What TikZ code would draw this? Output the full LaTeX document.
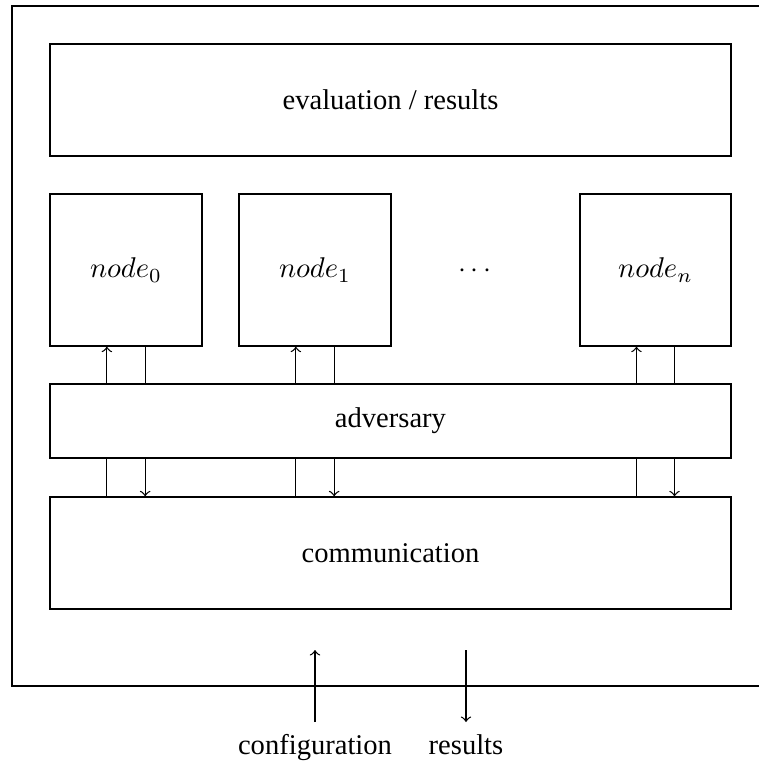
\documentclass[tikz,border=0pt]{standalone}
\usepackage{fontspec}
\setmainfont{Liberation Serif}
\usetikzlibrary{calc}
\newcommand\pxu{0.35pt}
\begin{document}
\begin{tikzpicture}[x=0.35pt,y=-0.35pt,line width=0.45pt,
  box/.style 2 args={draw, inner sep=0pt, minimum width=#1*\pxu, minimum height=#2*\pxu},
  lbl/.style={inner sep=0pt, anchor=base}]
  \useasboundingbox (0,0) rectangle (759,762);
  % outer frame, open on the right
  \draw (759,6) -- (12,6) -- (12,686) -- (759,686);

  \node[box={681}{112}] (eval) at (390.5,100) {evaluation / results};
  \node[box={152}{152}] (n0) at (126,270) {$node_0$};
  \node[box={152}{152}] (n1) at (315,270) {$node_1$};
  \node (dots) at (475,271) {$\cdots$};
  \node[box={151}{152}] (nn) at (655.5,270) {$node_n$};
  \node[box={681}{74}] (adv) at (390.5,421) {adversary};
  \node[box={681}{112}] (comm) at (390.5,553) {communication};

  \foreach \n in {n0,n1,nn} {
    \coordinate (\n-a) at ($(\n.south west)!0.375!(\n.south east)$);
    \coordinate (\n-b) at ($(\n.south west)!0.625!(\n.south east)$);
    \draw[->] (adv.north -| \n-a) -- (\n-a);
    \draw (\n-b) -- (adv.north -| \n-b);
    \draw (adv.south -| \n-a) -- (comm.north -| \n-a);
    \draw[->] (adv.south -| \n-b) -- (comm.north -| \n-b);
  }

  \node[lbl] (cfg) at (315,754) {configuration};
  \node[lbl] (res) at (466,754) {results};
  \coordinate (cfg-top) at (315,650);
  \coordinate (cfg-bot) at (315,722);
  \coordinate (res-top) at (466,650);
  \coordinate (res-bot) at (466,722);
  \draw[->] (cfg-bot) -- (cfg-top);
  \draw[->] (res-top) -- (res-bot);
\end{tikzpicture}
\end{document}
